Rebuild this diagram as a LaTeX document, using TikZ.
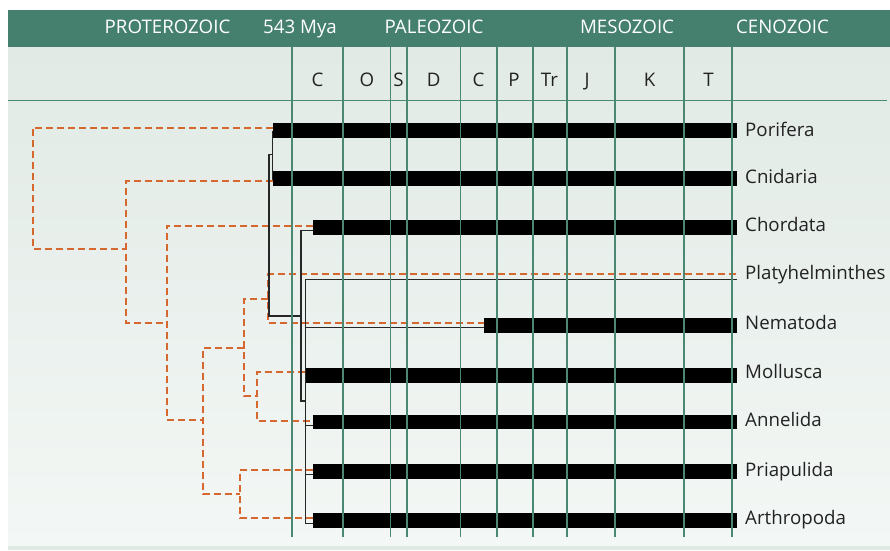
\documentclass[tikz,border=0pt]{standalone}
\usepackage{fontspec}
\setmainfont{Open Sans}
\definecolor{bandG}{HTML}{44806D}
\definecolor{gridG}{HTML}{4A8874}
\definecolor{paleTop}{HTML}{E1EAE5}
\definecolor{paleBot}{HTML}{F3F7F5}
\definecolor{stripG}{HTML}{E0E8E4}
\definecolor{cladeO}{HTML}{D6672E}
\definecolor{inkC}{HTML}{222222}
\newcommand{\labfont}{\fontsize{18.7}{21}\selectfont}
\tikzset{
  eraname/.style={anchor=base, text=white, font=\labfont, inner sep=0},
  periodname/.style={anchor=base, text=inkC, font=\labfont, inner sep=0},
  taxon/.style={anchor=base west, text=inkC, font=\labfont, inner sep=0},
  rangebar/.style={fill=black},
  eraline/.style={draw=gridG, line width=1.7pt},
  clade/.style={draw=cladeO, line width=1.9pt, dash pattern=on 7pt off 4pt},
  phylo/.style={draw=black!85, line width=1.2pt},
}
\begin{document}
\begin{tikzpicture}[x=1pt, y=-1pt]
\useasboundingbox (0,0) rectangle (890,550);
% page background
\fill[white] (0,0) rectangle (890,550);
\shade[top color=paleTop, bottom color=paleBot] (8,46.7) rectangle (890,546);
\fill[stripG] (8,546) rectangle (890,550);
% era band
\fill[bandG] (8,10) rectangle (890,46.7);
\node[eraname] (proterozoic) at (167.5,33.3) {PROTEROZOIC};
\node[eraname] (mya) at (300,33.3) {543 Mya};
\node[eraname] (paleozoic) at (434,33.3) {PALEOZOIC};
\node[eraname] (mesozoic) at (627,33.3) {MESOZOIC};
\node[eraname] (cenozoic) at (782.5,33.3) {CENOZOIC};
% period names
\node[periodname] (pCam) at (317.5,86) {C};
\node[periodname] (pOrd) at (367,86) {O};
\node[periodname] (pSil) at (398.5,86) {S};
\node[periodname] (pDev) at (433.7,86) {D};
\node[periodname] (pCar) at (478.5,86) {C};
\node[periodname] (pPer) at (514,86) {P};
\node[periodname] (pTri) at (549.5,86) {Tr};
\node[periodname] (pJur) at (587,86) {J};
\node[periodname] (pCre) at (649.5,86) {K};
\node[periodname] (pTer) at (708.5,86) {T};
\draw[eraline] (8,100.5) -- (887,100.5);

% fossil ranges
\fill[rangebar] (273,123.3) rectangle (737,137.7);
\fill[rangebar] (273,171) rectangle (737,185.7);
\fill[rangebar] (313,220) rectangle (737,235);
\fill[rangebar] (484,317.7) rectangle (737,332.7);
\fill[rangebar] (305,368.3) rectangle (737,382.7);
\fill[rangebar] (313,415) rectangle (737,429.3);
\fill[rangebar] (313,464) rectangle (737,478.7);
\fill[rangebar] (313,513.3) rectangle (737,527.7);

% taxa
\node[taxon] (tPor) at (745,136) {Porifera};
\node[taxon] (tCni) at (745,183) {Cnidaria};
\node[taxon] (tCho) at (745,231) {Chordata};
\node[taxon] (tPla) at (745,279.3) {Platyhelminthes};
\node[taxon] (tNem) at (745,329) {Nematoda};
\node[taxon] (tMol) at (745,378.3) {Mollusca};
\node[taxon] (tAnn) at (745,426.7) {Annelida};
\node[taxon] (tPri) at (745,476) {Priapulida};
\node[taxon] (tArt) at (745,524.3) {Arthropoda};

% molecular tree (dashed)
\coordinate (dPor) at (273,127.7);
\coordinate (dCni) at (273,180.7);
\coordinate (dCho) at (313,225.7);
\coordinate (dPla) at (736,274.3);
\coordinate (dNem) at (484,323.3);
\coordinate (dMol) at (305,372.3);
\coordinate (dAnn) at (313,420.7);
\coordinate (dPri) at (313,470);
\coordinate (dArt) at (313,518.3);
\coordinate (d1) at (32.7,190);
\coordinate (d2) at (126,249.3);
\coordinate (d3) at (166.7,322.7);
\coordinate (d4) at (203.3,420);
\coordinate (d5) at (244.3,347.7);
\coordinate (d6) at (268.3,299);
\coordinate (d7) at (256.7,396);
\coordinate (d8) at (240,494);
\draw[clade] (dPor) -| (d1) |- (d2);
\draw[clade] (dCni) -| (d2) |- (d3);
\draw[clade] (dCho) -| (d3) |- (d4);
\draw[clade] (d5) -| (d4) |- (d8);
\draw[clade] (d6) -| (d5) |- (d7);
\draw[clade] (dPla) -| (d6) |- (dNem);
\draw[clade] (dMol) -| (d7) |- (dAnn);
\draw[clade] (dPri) -| (d8) |- (dArt);

% morphological tree (solid)
\coordinate (bPor) at (272.7,130.7);
\coordinate (bCni) at (272.7,180);
\coordinate (b1) at (272.7,154.3);
\coordinate (b2) at (269,235);
\coordinate (b3) at (301,316);
\coordinate (b4) at (305.7,401);
\coordinate (bCho) at (313,230.7);
\coordinate (bPla) at (737,279.3);
\coordinate (bNem) at (484,327.7);
\coordinate (bAnn) at (313,425.7);
\coordinate (bPri) at (313,474.3);
\coordinate (bArt) at (313,523.3);
\draw[phylo] (bPor) -- (bCni);
\draw[phylo] (b1) -| (b2) |- (b3);
\draw[phylo] (bCho) -| (b3) |- (b4);
\draw[phylo] (bPla) -| (b4) |- (bArt);
\draw[phylo] (bNem) -- (bNem -| b4);
\draw[phylo] (bAnn) -- (bAnn -| b4);
\draw[phylo] (bPri) -- (bPri -| b4);

% period boundaries
\foreach \px in {292.3,342.7,390.5,406.8,460.5,496.8,532.8,566.8,615,684,731.8}
  \draw[eraline] (\px,46.7) -- (\px,537);
\end{tikzpicture}
\end{document}
